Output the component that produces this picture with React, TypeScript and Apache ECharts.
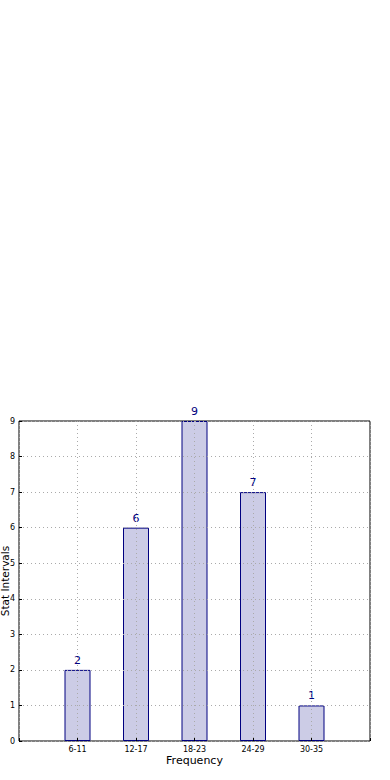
import React, { useEffect, useRef } from "react";
import * as echarts from "echarts";

const categories = ["", "6-11", "12-17", "18-23", "24-29", "30-35", ""];
const counts = [null, 2, 6, 9, 7, 1, null];

export default function App() {
  const ref = useRef<HTMLDivElement>(null);
  useEffect(() => {
    if (!ref.current) return;
    const chart = echarts.init(ref.current, null, { renderer: "svg" });
    const font = "DejaVu Sans";
    chart.setOption({
      animation: false,
      backgroundColor: "#ffffff",
      textStyle: { fontFamily: font },
      grid: {
        left: 19,
        top: 421,
        width: 351,
        height: 320,
        containLabel: false,
        outerBoundsMode: "none",
        show: true,
        borderColor: "#000",
        borderWidth: 1,
        backgroundColor: "transparent",
      },
      graphic: [
        {
          type: "text",
          x: 5,
          y: 581,
          rotation: Math.PI / 2,
          style: {
            text: "Stat Intervals",
            fontSize: 10.5,
            fontFamily: font,
            fill: "#000",
            align: "center",
            verticalAlign: "middle",
          },
        },
      ],
      xAxis: {
        type: "category",
        data: categories,
        boundaryGap: false,
        z: 5,
        name: "Frequency",
        nameLocation: "middle",
        nameGap: 14,
        nameTextStyle: { fontSize: 11, color: "#000", fontFamily: font },
        axisLine: { show: false },
        axisTick: { show: true, inside: true, length: 3, lineStyle: { color: "#000" } },
        axisLabel: { fontSize: 8, color: "#000", margin: 4, fontFamily: font },
        splitLine: {
          show: true,
          lineStyle: { color: "#aaaaaa", type: [1, 3], width: 1 },
        },
      },
      yAxis: {
        type: "value",
        min: 0,
        max: 9,
        interval: 1,
        z: 5,
        axisLine: { show: false },
        axisTick: { show: true, inside: true, length: 3, lineStyle: { color: "#000" } },
        axisLabel: {
          fontSize: 8,
          color: "#000",
          margin: 4,
          fontFamily: font,
        },
        splitLine: {
          show: true,
          lineStyle: { color: "#aaaaaa", type: [1, 3], width: 1 },
        },
      },
      series: [
        {
          type: "bar",
          data: counts,
          barWidth: 26,
          z: 2,
          itemStyle: {
            color: "rgba(0,0,128,0.2)",
            borderColor: "#000080",
            borderWidth: 1,
          },
          label: {
            show: true,
            position: "top",
            distance: 4,
            fontSize: 11,
            color: "#000080",
            fontFamily: font,
          },
        },
      ],
    });
    return () => chart.dispose();
  }, []);
  return (
    <div
      ref={ref}
      style={{ position: "fixed", left: 0, top: 0, width: 390, height: 780 }}
    />
  );
}
